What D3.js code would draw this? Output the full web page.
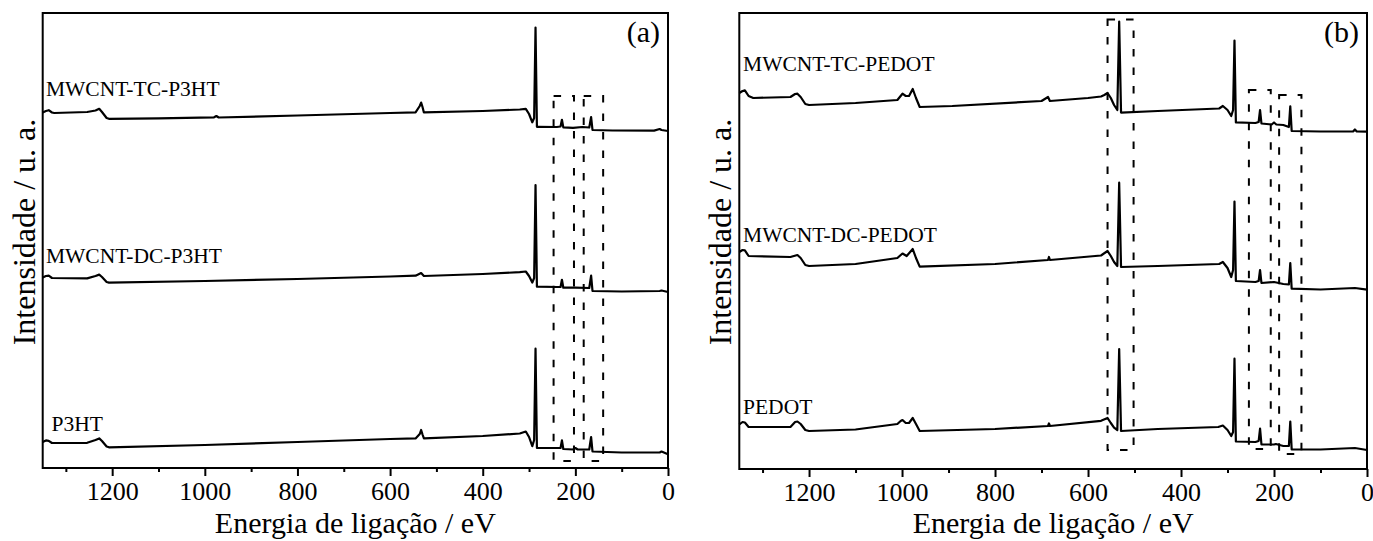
<!DOCTYPE html>
<html>
<head>
<meta charset="utf-8">
<script src="https://cdn.jsdelivr.net/npm/d3@7/dist/d3.min.js"></script>
<style>
    body { margin: 0; background: #fff; }
    text { font-family: "Liberation Serif", "Times New Roman", serif; fill: #000; }
</style>
</head>
<body>
<svg id="chart" width="1373" height="541"></svg>
<script>
// XPS survey spectra, [binding energy (eV), intensity (a.u.)]
const tcP3ht = [[1350,355.5],[1343,357],[1337,357.8],[1330,355.5],[1325,355],[1254,356],[1236,357.5],[1228,359.2],[1222,356],[1212,350],[1207,349.2],[1100,349.7],[980,350.7],[975,352],[970,350.5],[800,352.5],[600,355],[545,355.7],[536,362],[533,365.4],[530,361],[527,355.6],[400,357],[320,358.5],[307,359.2],[300,354],[293,345.7],[289,350],[286,440.5],[283,341.2],[280,341.2],[240,341],[232,341.5],[229,348.2],[226,340.6],[205,340.2],[185,341],[170,340.5],[166,351],[163,338],[120,337.5],[30,337.4],[18,339],[14,338],[0,337]];
const dcP3ht = [[1350,190.5],[1343,192],[1337,192.3],[1330,190],[1254,189.6],[1236,192],[1228,193.4],[1222,191],[1212,186],[1207,185.4],[1000,187],[800,189],[600,191.5],[545,192.3],[533,195],[527,192],[400,194],[320,195.8],[307,196.5],[300,192],[293,185.4],[289,190],[286,283],[283,181.3],[240,181],[232,181],[229,188.2],[226,180.3],[200,180.3],[170,180],[166,192.3],[163,177],[100,176.5],[18,177],[14,177.5],[0,176]];
const p3ht = [[1350,26],[1343,27.6],[1337,27.2],[1330,25],[1254,25.2],[1236,28],[1228,29.6],[1222,27],[1212,21.5],[1207,20.7],[1000,23],[800,26],[600,29],[545,29.6],[536,34],[533,38],[530,33.5],[527,29.6],[400,32],[320,34.5],[307,36.5],[300,31],[293,21.8],[289,28],[286,119.3],[283,20],[240,20],[232,20],[229,27.6],[226,19],[205,18.5],[200,20],[195,18.5],[170,18.5],[166,31],[163,16.5],[100,15.5],[18,15.5],[14,16.5],[0,13.8]];

const tcPedot = [[1350,376],[1343,378],[1338,378.7],[1330,373],[1320,371],[1240,372],[1230,375],[1225,375.3],[1218,372],[1208,365],[1200,364],[1100,366],[1010,369],[1003,373],[999,375.3],[992,373],[985,373],[977,380],[970,371],[962,362],[892,363],[700,368],[686,372],[682,368],[600,371],[572,372.5],[565,374],[558,376],[551,371],[544,364],[537,359],[533,447.5],[529,356.4],[450,358],[318,360.5],[310,363],[300,359],[292,353],[288,359],[285,428.4],[282,346.6],[240,346],[233,347],[230,359],[227,345.5],[205,344.5],[200,346.5],[195,344.5],[180,344],[168,342],[165,362.6],[162,338],[100,337.5],[30,337.5],[26,339.5],[22,337.5],[0,337.3]];
const dcPedot = [[1350,217],[1343,219],[1338,218.7],[1330,213],[1240,212],[1225,214],[1218,211],[1208,204],[1200,203],[1100,205],[1010,211],[999,215.5],[990,213],[977,220],[970,211],[962,202.4],[800,205],[686,209],[684,212],[682,209],[572,213.5],[558,218],[551,213],[544,207],[537,203],[533,286.3],[529,202],[450,203],[318,205],[310,207],[300,201],[292,192],[288,199],[285,267.5],[282,188],[240,187],[233,188],[230,199],[227,186],[200,187],[180,185],[168,184.5],[165,206],[162,180.3],[100,179.5],[26,181],[0,179.3]];
const pedot = [[1350,44.5],[1343,47],[1338,46.5],[1330,42],[1240,42],[1230,47],[1225,47.5],[1218,45],[1208,39],[1200,38],[1100,39.5],[1010,45],[1003,48],[999,49],[992,46],[985,46],[977,51],[970,45],[962,38],[800,40],[686,43],[684,45.5],[682,43],[572,48.2],[558,51],[551,46],[544,41.3],[537,39],[533,120],[529,38],[450,40],[320,42],[310,43.5],[300,39],[292,33],[288,37],[285,110.3],[282,27.5],[240,27],[233,28],[230,40.5],[227,24.5],[200,24.5],[196,25],[180,23],[168,23],[165,47.5],[162,19.6],[100,19.5],[26,21],[0,19]];

const namesA = ["MWCNT-TC-P3HT", "MWCNT-DC-P3HT", "P3HT"];
const namesB = ["MWCNT-TC-PEDOT", "MWCNT-DC-PEDOT", "PEDOT"];
// label anchors [eV, intensity]
const labelsA = [[1343, 372.5], [1343, 205.5], [1331, 37]];
const labelsB = [[1342, 398.5], [1342, 227], [1342, 55]];

// dashed boxes [eV high, eV low, intensity top, intensity bottom]
const boxesA = [[247, 203, 372, 7], [182, 140, 372, 7]];
const boxesB = [[558, 502, 449.4, 19], [254, 207, 379, 20], [189, 141, 374, 15]];

const majorTicks = [1200, 1000, 800, 600, 400, 200, 0];
const minorTicks = [1300, 1100, 900, 700, 500, 300, 100];

const svg = d3.select("#chart");

const panels = [
    { tag: "(a)", left: 42.7, right: 668, top: 13, bottom: 468, series: [tcP3ht, dcP3ht, p3ht], names: namesA, labels: labelsA, boxes: boxesA },
    { tag: "(b)", left: 739.3, right: 1367, top: 13, bottom: 469, series: [tcPedot, dcPedot, pedot], names: namesB, labels: labelsB, boxes: boxesB }
];

panels.forEach((p) => {
    const x = d3.scaleLinear().domain([1350, 0]).range([p.left, p.right]);
    const y = d3.scaleLinear().domain([0, p.bottom - p.top]).range([p.bottom, p.top]);
    const g = svg.append("g");

    // dashed regions
    g.selectAll("rect.box")
        .data(p.boxes)
        .enter()
        .append("rect")
        .attr("class", "box")
        .attr("x", (d) => x(d[0]))
        .attr("y", (d) => y(d[2]))
        .attr("width", (d) => x(d[1]) - x(d[0]))
        .attr("height", (d) => y(d[3]) - y(d[2]))
        .attr("fill", "none")
        .attr("stroke", "#000")
        .attr("stroke-width", 2)
        .attr("stroke-dasharray", "7.5,11");

    const line = d3.line().x((d) => x(d[0])).y((d) => y(d[1]));

    g.selectAll("path.spec")
        .data(p.series)
        .enter()
        .append("path")
        .attr("class", "spec")
        .attr("d", line)
        .attr("fill", "none")
        .attr("stroke", "#000")
        .attr("stroke-width", 2.2)
        .attr("stroke-linejoin", "round");

    g.selectAll("text.name")
        .data(p.names)
        .enter()
        .append("text")
        .attr("class", "name")
        .attr("x", (d, i) => x(p.labels[i][0]))
        .attr("y", (d, i) => y(p.labels[i][1]))
        .style("font-size", "21.5px")
        .text((d) => d);

    // frame
    g.append("rect")
        .attr("x", p.left)
        .attr("y", p.top)
        .attr("width", p.right - p.left)
        .attr("height", p.bottom - p.top)
        .attr("fill", "none")
        .attr("stroke", "#000")
        .attr("stroke-width", 2);

    const axis = g.append("g")
        .attr("transform", `translate(0,${p.bottom})`)
        .call(d3.axisBottom(x).tickValues(majorTicks).tickSize(8).tickSizeOuter(0).tickPadding(6).tickFormat(d3.format("d")));
    axis.select(".domain").remove();
    axis.selectAll(".tick line").attr("stroke-width", 2);
    axis.selectAll(".tick text").style("font-size", "26px").attr("fill", "#000");

    const minor = g.append("g")
        .attr("transform", `translate(0,${p.bottom})`)
        .call(d3.axisBottom(x).tickValues(minorTicks).tickSize(4).tickFormat(""));
    minor.select(".domain").remove();
    minor.selectAll(".tick line").attr("stroke-width", 2);

    g.append("text")
        .attr("x", (p.left + p.right) / 2)
        .attr("y", 533)
        .attr("text-anchor", "middle")
        .style("font-size", "30px")
        .text("Energia de ligação / eV");

    g.append("text")
        .attr("transform", `translate(${p.left - 8},232) rotate(-90)`)
        .attr("text-anchor", "middle")
        .style("font-size", "32px")
        .text("Intensidade / u. a.");

    g.append("text")
        .attr("x", p.right - 8)
        .attr("y", 42)
        .attr("text-anchor", "end")
        .style("font-size", "30px")
        .text(p.tag);
});
</script>
</body>
</html>
